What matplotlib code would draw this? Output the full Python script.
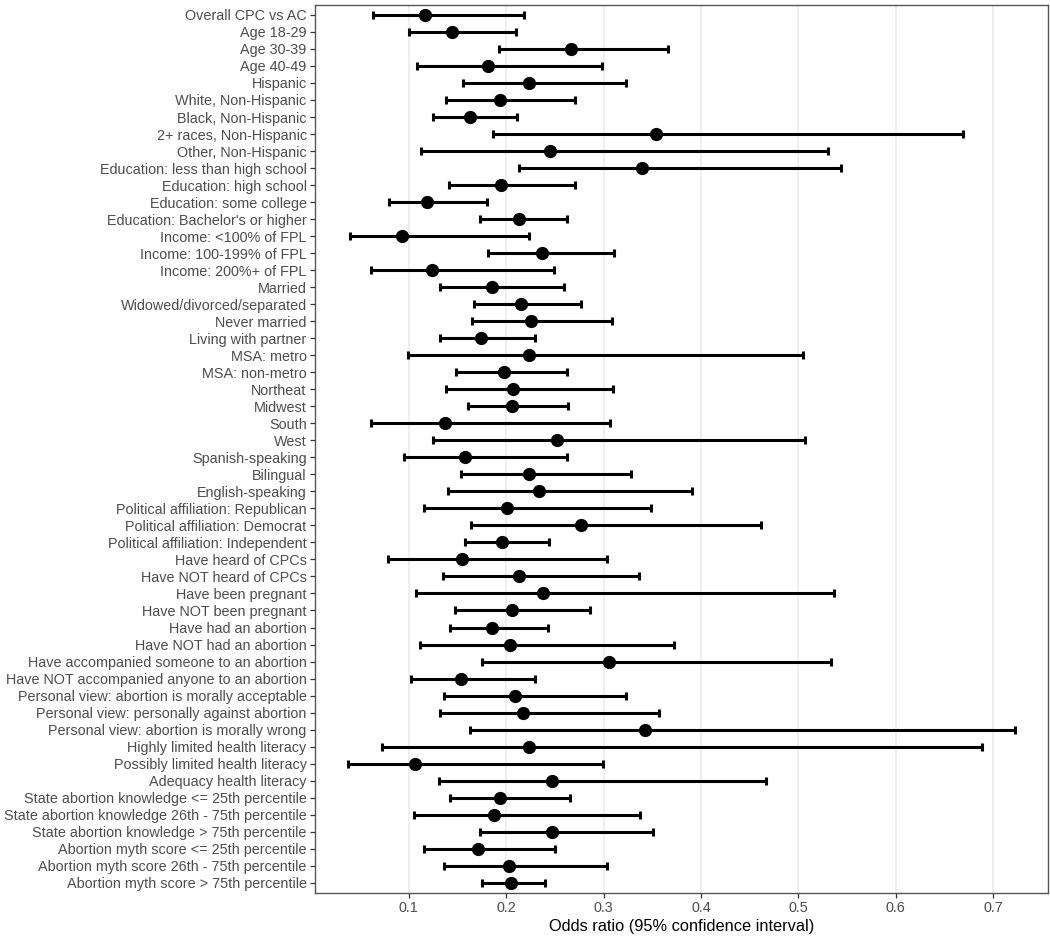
import matplotlib
matplotlib.use("Agg")
import matplotlib.pyplot as plt
import numpy as np

# subgroup labels, top to bottom
labels = [
    "Overall CPC vs AC", "Age 18-29", "Age 30-39", "Age 40-49", "Hispanic",
    "White, Non-Hispanic", "Black, Non-Hispanic", "2+ races, Non-Hispanic",
    "Other, Non-Hispanic", "Education: less than high school",
    "Education: high school", "Education: some college",
    "Education: Bachelor's or higher", "Income: <100% of FPL",
    "Income: 100-199% of FPL", "Income: 200%+ of FPL", "Married",
    "Widowed/divorced/separated", "Never married", "Living with partner",
    "MSA: metro", "MSA: non-metro", "Northeat", "Midwest", "South", "West",
    "Spanish-speaking", "Bilingual", "English-speaking",
    "Political affiliation: Republican", "Political affiliation: Democrat",
    "Political affiliation: Independent", "Have heard of CPCs",
    "Have NOT heard of CPCs", "Have been pregnant", "Have NOT been pregnant",
    "Have had an abortion", "Have NOT had an abortion",
    "Have accompanied someone to an abortion",
    "Have NOT accompanied anyone to an abortion",
    "Personal view: abortion is morally acceptable",
    "Personal view: personally against abortion",
    "Personal view: abortion is morally wrong",
    "Highly limited health literacy", "Possibly limited health literacy",
    "Adequacy health literacy", "State abortion knowledge <= 25th percentile",
    "State abortion knowledge 26th - 75th percentile",
    "State abortion knowledge > 75th percentile",
    "Abortion myth score <= 25th percentile",
    "Abortion myth score 26th - 75th percentile",
    "Abortion myth score > 75th percentile",
]

odds = [0.117, 0.144, 0.267, 0.181, 0.224, 0.194, 0.163, 0.354, 0.245, 0.340,
        0.195, 0.119, 0.213, 0.093, 0.237, 0.124, 0.185, 0.215, 0.226, 0.174,
        0.224, 0.198, 0.207, 0.206, 0.137, 0.252, 0.158, 0.224, 0.234, 0.201,
        0.277, 0.196, 0.155, 0.213, 0.238, 0.206, 0.186, 0.204, 0.306, 0.154,
        0.209, 0.217, 0.343, 0.224, 0.106, 0.247, 0.194, 0.188, 0.247, 0.171,
        0.203, 0.205]

lower = [0.063, 0.100, 0.193, 0.109, 0.156, 0.138, 0.125, 0.187, 0.113, 0.213,
         0.141, 0.080, 0.173, 0.040, 0.181, 0.061, 0.132, 0.167, 0.165, 0.132,
         0.099, 0.149, 0.138, 0.161, 0.061, 0.125, 0.095, 0.154, 0.140, 0.116,
         0.164, 0.158, 0.079, 0.135, 0.107, 0.148, 0.142, 0.112, 0.175, 0.102,
         0.136, 0.132, 0.163, 0.073, 0.038, 0.131, 0.142, 0.105, 0.173, 0.116,
         0.136, 0.175]

upper = [0.218, 0.210, 0.366, 0.298, 0.323, 0.271, 0.211, 0.669, 0.530, 0.544,
         0.271, 0.180, 0.263, 0.224, 0.311, 0.249, 0.259, 0.277, 0.309, 0.230,
         0.505, 0.263, 0.310, 0.264, 0.307, 0.507, 0.263, 0.328, 0.391, 0.349,
         0.462, 0.244, 0.304, 0.336, 0.537, 0.286, 0.243, 0.372, 0.534, 0.230,
         0.323, 0.357, 0.722, 0.689, 0.299, 0.467, 0.266, 0.337, 0.351, 0.250,
         0.304, 0.240]

plt.rcParams['font.family'] = ['Liberation Sans', 'DejaVu Sans']

fig = plt.figure(figsize=(10.5, 9.38), dpi=100)
ax = fig.add_axes([0.300, 0.048, 0.698, 0.947])

y = np.arange(len(labels))
odds = np.array(odds)
lower = np.array(lower)
upper = np.array(upper)

ax.errorbar(odds, y, xerr=[odds - lower, upper - odds], fmt='o', color='black',
            ms=8.5, elinewidth=2.2, capsize=2.8, capthick=2.2, zorder=3)

# ggplot style limits (5% expansion, 0.6 on discrete axis)
lo, hi = lower.min(), upper.max()
pad = 0.05 * (hi - lo)
ax.set_xlim(lo - pad, hi + pad)
ax.set_ylim(len(labels) - 0.4, -0.6)

ax.set_yticks(y)
ax.set_yticklabels(labels)
ax.set_xticks([0.1, 0.2, 0.3, 0.4, 0.5, 0.6, 0.7])
ax.set_xticklabels(["0.1", "0.2", "0.3", "0.4", "0.5", "0.6", "0.7"])

ax.grid(axis='x', color='#EBEBEB', linewidth=1.1, zorder=0)
ax.set_axisbelow(True)
for s in ax.spines.values():
    s.set_color('#555555')
    s.set_linewidth(1.0)

ax.tick_params(axis='both', colors='#333333', labelcolor='#4D4D4D',
               labelsize=10.4, length=3.5, width=0.9, pad=2.5)
ax.set_xlabel("Odds ratio (95% confidence interval)", fontsize=11.8,
              color='black', labelpad=3)

fig.savefig("out.png", dpi=100)
